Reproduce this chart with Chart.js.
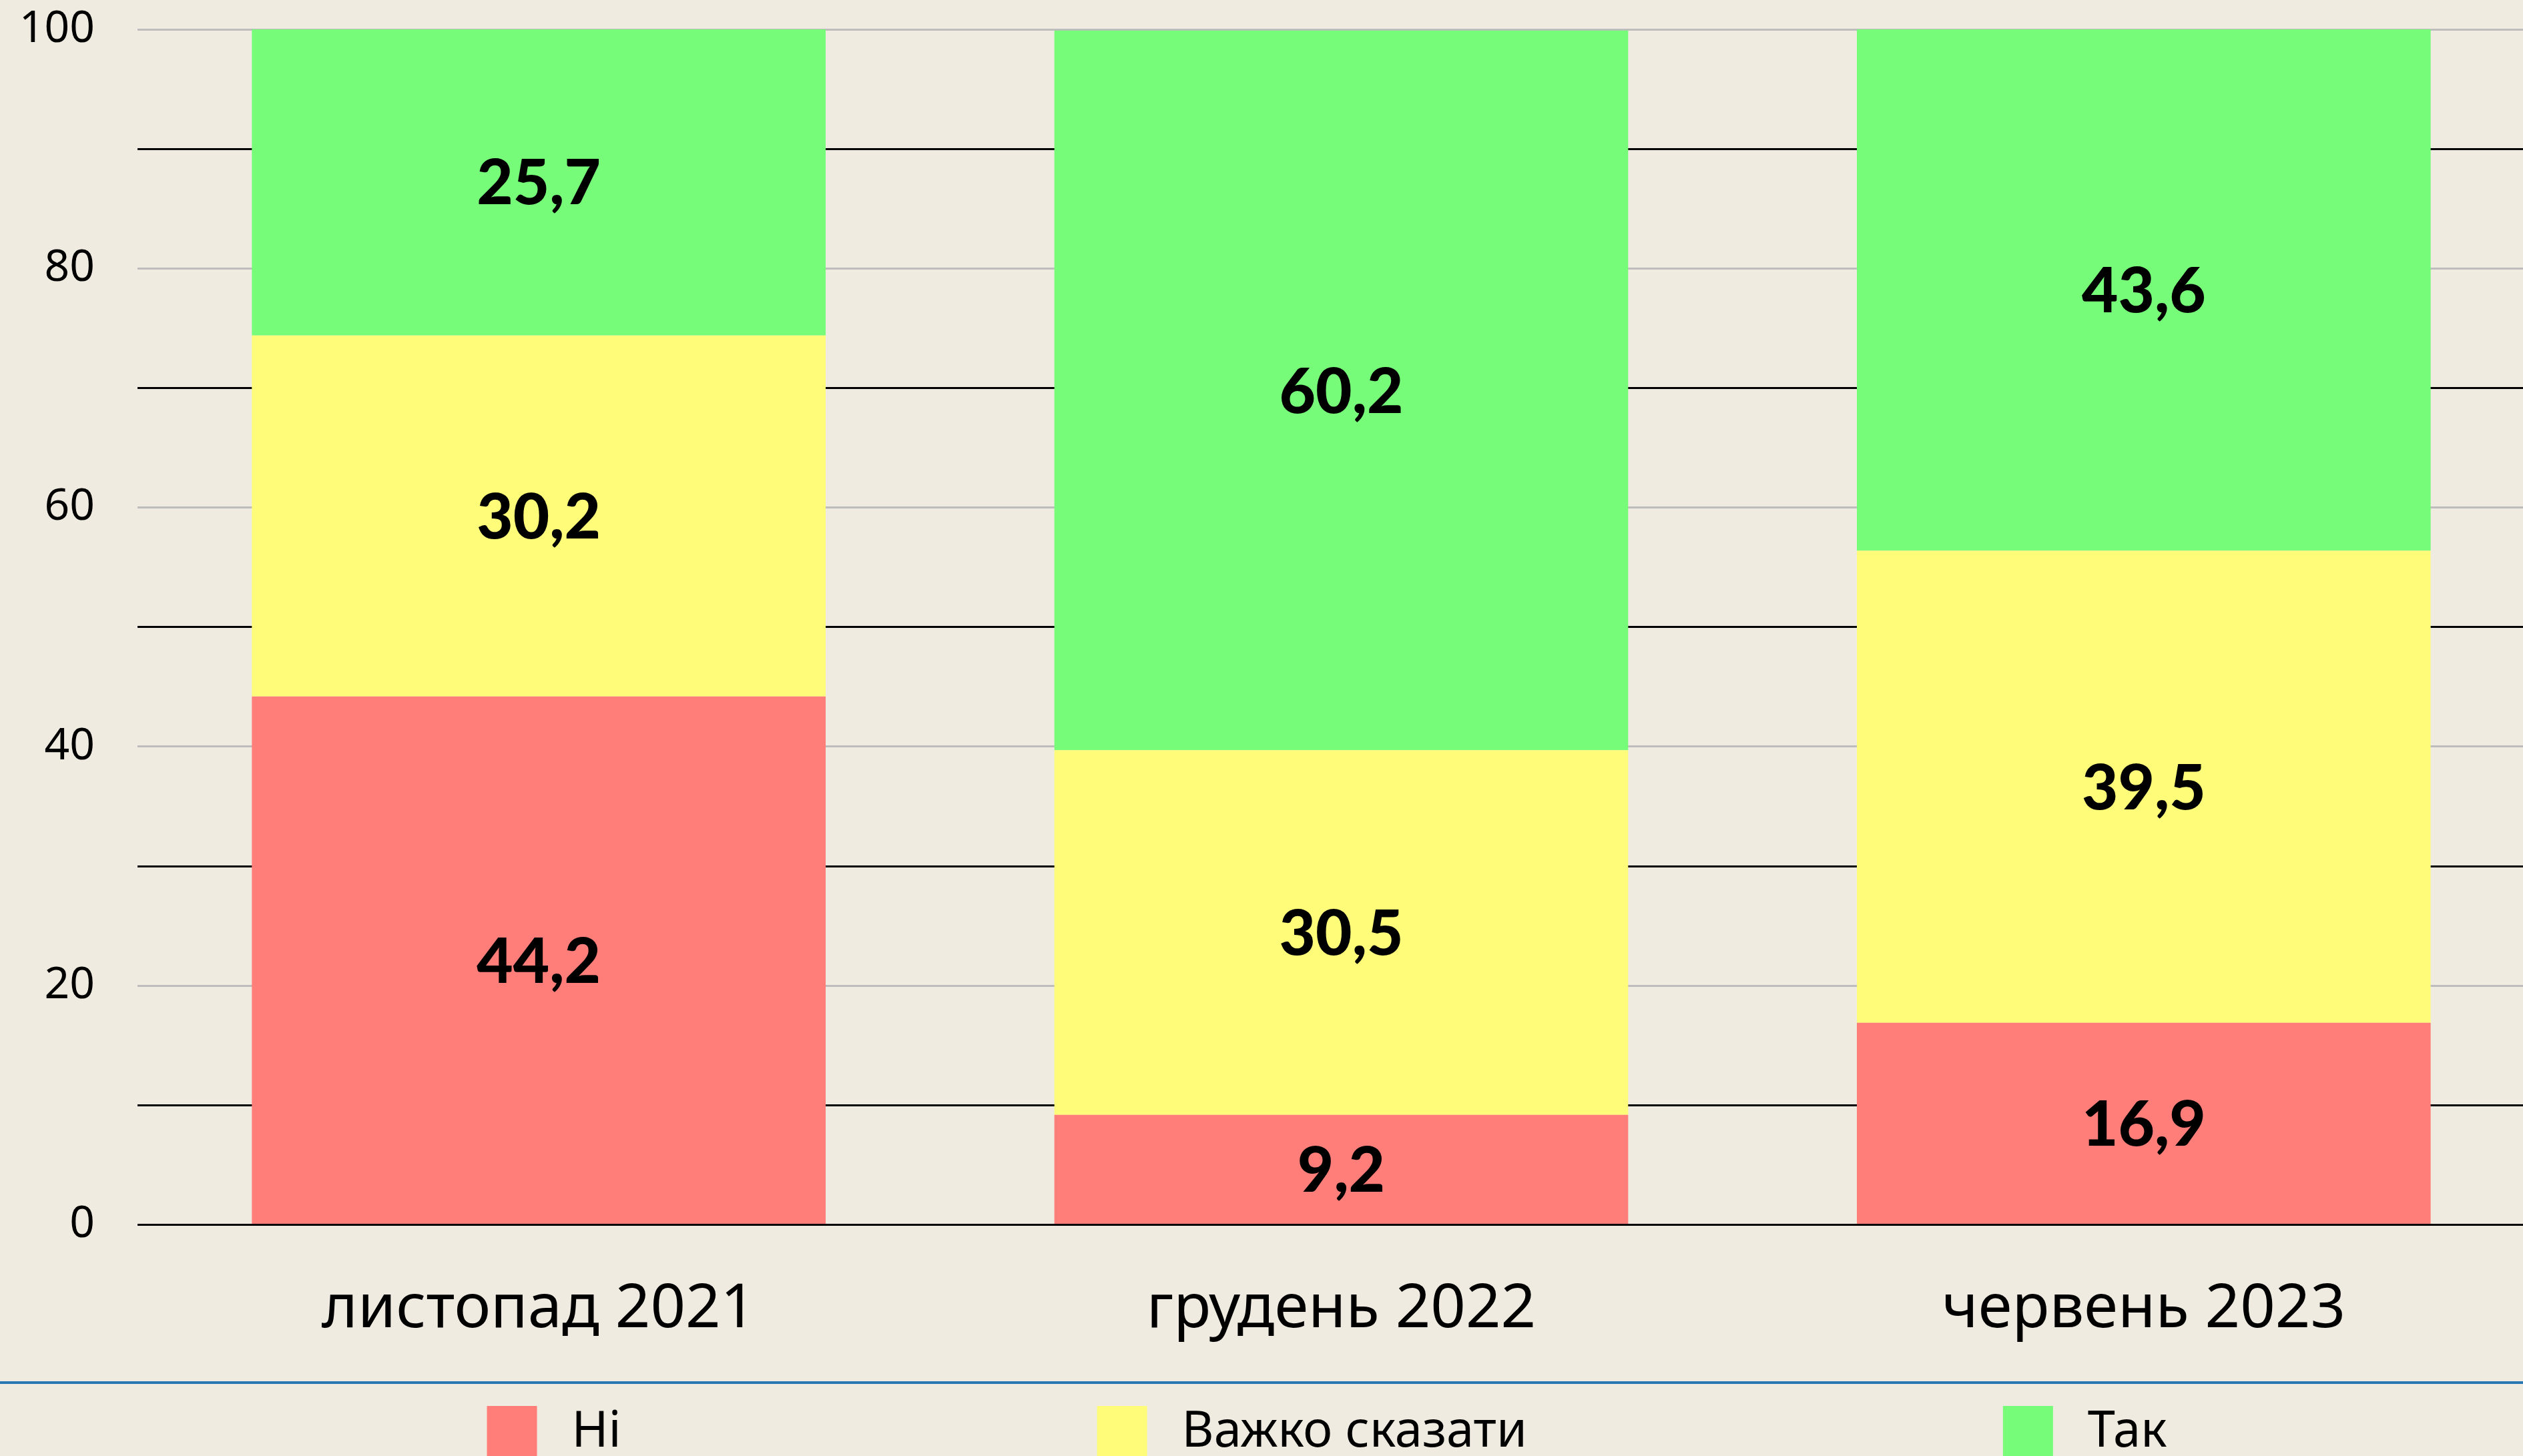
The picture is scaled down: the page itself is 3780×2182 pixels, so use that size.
<!DOCTYPE html>
<html>
<head>
<meta charset="utf-8">
<script src="https://cdn.jsdelivr.net/npm/chart.js@4.4.1/dist/chart.umd.min.js"></script>
<style>
html,body{margin:0;padding:0;background:#EFEBE0;overflow:hidden;width:3780px;height:2182px}
canvas{display:block}
</style>
</head>
<body>
<canvas id="c" width="3813" height="2182"></canvas>
<script>
// ---- data ----
const categories = ['листопад 2021', 'грудень 2022', 'червень 2023'];
const seriesNames = ['Ні', 'Важко сказати', 'Так'];
const valuesNi = [44.2, 9.2, 16.9];
const valuesHard = [30.2, 30.5, 39.5];
const valuesYes = [25.7, 60.2, 43.6];
const yTickLabels = [0, 20, 40, 60, 80, 100];

// ---- style ----
const colors = ['#FF7E79', '#FFFC7A', '#77FC7A'];
const FONT = '"Noto Sans", "Open Sans", sans-serif';
const BOLD_FONT = 'Lato, "Noto Sans", sans-serif';
const VAL_SIZE = 94;

const fmt = v => String(v).replace('.', ',');

const valueLabels = {
  id: 'valueLabels',
  afterDatasetsDraw(chart) {
    const ctx = chart.ctx;
    ctx.save();
    ctx.fillStyle = '#000';
    ctx.font = '900 ' + VAL_SIZE + 'px ' + BOLD_FONT;
    ctx.textAlign = 'center';
    ctx.textBaseline = 'alphabetic';
    chart.data.datasets.forEach((ds, i) => {
      const meta = chart.getDatasetMeta(i);
      meta.data.forEach((bar, j) => {
        const p = bar.getProps(['x', 'y', 'base'], true);
        const cy = (p.y + p.base) / 2;
        ctx.fillText(fmt(ds.data[j]), p.x, cy + 0.72 * VAL_SIZE / 2);
      });
    });
    ctx.restore();
  }
};

const bottomLegend = {
  id: 'bottomLegend',
  afterDraw(chart) {
    const ctx = chart.ctx;
    ctx.save();
    // separator line
    ctx.strokeStyle = '#2A78B2';
    ctx.lineWidth = 4;
    ctx.beginPath();
    ctx.moveTo(0, 2072);
    ctx.lineTo(chart.width, 2072);
    ctx.stroke();
    // legend
    const box = 75, gapText = 52, gapItem = 713, fs = 74;
    ctx.font = fs + 'px ' + FONT;
    const items = chart.data.datasets.map(ds => ({
      text: ds.label, color: ds.backgroundColor, w: ctx.measureText(ds.label).width
    }));
    const total = items.reduce((s, it) => s + box + gapText + it.w, 0) + gapItem * (items.length - 1);
    let x = 1988 - total / 2;
    ctx.textBaseline = 'alphabetic';
    ctx.textAlign = 'left';
    items.forEach(it => {
      ctx.fillStyle = it.color;
      ctx.fillRect(x, 2107, box, box);
      ctx.fillStyle = '#000';
      ctx.fillText(it.text, x + box + gapText, 2168);
      x += box + gapText + it.w + gapItem;
    });
    ctx.restore();
  }
};

const datasets = [valuesNi, valuesHard, valuesYes].map((vals, i) => ({
  label: seriesNames[i],
  data: vals,
  backgroundColor: colors[i],
  borderWidth: 0,
  categoryPercentage: 1,
  barPercentage: 0.715
}));

new Chart(document.getElementById('c'), {
  type: 'bar',
  data: { labels: categories, datasets },
  options: {
    responsive: false,
    animation: false,
    devicePixelRatio: 1,
    layout: { padding: { top: 44, right: 0, bottom: 92, left: 0 } },
    plugins: { legend: { display: false }, tooltip: { enabled: false } },
    scales: {
      x: {
        stacked: true,
        grid: { display: false, drawTicks: false },
        border: { display: false },
        ticks: { color: '#000', font: { family: FONT, size: 92 }, padding: 72, maxRotation: 0 }
      },
      y: {
        stacked: true,
        min: 0, max: 100,
        afterFit(scale) { scale.width = 206; },
        border: { display: false },
        grid: {
          drawTicks: true,
          tickLength: 64,
          tickColor: 'rgba(0,0,0,0)',
          lineWidth: 3,
          color: c => (c.tick && c.tick.value !== 0 && yTickLabels.includes(c.tick.value)) ? '#BDBDBD' : '#000'
        },
        ticks: {
          stepSize: 10,
          autoSkip: false,
          color: '#000',
          padding: 0,
          font: { family: FONT, size: 66 },
          callback: v => yTickLabels.includes(v) ? String(v) : ''
        }
      }
    }
  },
  plugins: [valueLabels, bottomLegend]
});
</script>
</body>
</html>
